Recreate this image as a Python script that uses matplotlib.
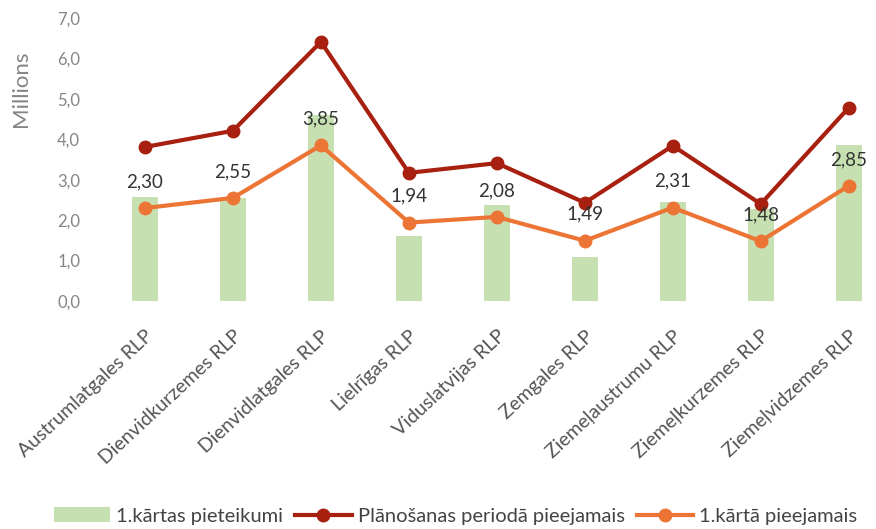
import matplotlib
matplotlib.use('Agg')
import matplotlib.pyplot as plt
import numpy as np

regions = ['Austrumlatgales RLP', 'Dienvidkurzemes RLP', 'Dienvidlatgales RLP',
           'Lielrīgas RLP', 'Viduslatvijas RLP', 'Zemgales RLP',
           'Ziemeļaustrumu RLP', 'Ziemeļkurzemes RLP', 'Ziemeļvidzemes RLP']
pieteikumi = [2.57, 2.55, 4.60, 1.61, 2.38, 1.09, 2.45, 2.28, 3.86]
planosanas = [3.81, 4.21, 6.41, 3.17, 3.41, 2.43, 3.84, 2.40, 4.78]
karta1 = [2.30, 2.55, 3.85, 1.94, 2.08, 1.49, 2.31, 1.48, 2.85]

plt.rcParams['font.family'] = ['Lato', 'DejaVu Sans']

fig = plt.figure(figsize=(8.76, 5.29), dpi=100)
ax = fig.add_axes([101 / 876, (529 - 301) / 529, 1 - 101 / 876, (301 - 18) / 529])

x = np.arange(len(regions))
bars = ax.bar(x, pieteikumi, width=0.3, color='#c6e0b2', label='1.kārtas pieteikumi', zorder=1)
l1, = ax.plot(x, planosanas, color='#a82010', lw=3, marker='o', ms=9,
              label='Plānošanas periodā pieejamais', zorder=3)
l2, = ax.plot(x, karta1, color='#ec7535', lw=3, marker='o', ms=9,
              label='1.kārtā pieejamais', zorder=3)

for xi, v in zip(x, karta1):
    ax.annotate(('%.2f' % v).replace('.', ','), (xi, v), xytext=(0, 19),
                textcoords='offset points', ha='center', va='center',
                fontsize=13.5, color='#333333', zorder=4)

ax.set_xlim(-0.5, 8.31)
ax.set_ylim(0, 7)
yt = np.arange(0, 7.1, 1.0)
ax.set_yticks(yt)
ax.set_yticklabels([('%.1f' % t).replace('.', ',') for t in yt], fontsize=12, color='#858585')
ax.set_xticks(x)
ax.set_xticklabels(regions, rotation=43, ha='right', rotation_mode='anchor',
                   fontsize=14, color='#555555')
ax.tick_params(axis='y', length=0, pad=15)
ax.tick_params(axis='x', length=0, pad=19)
ax.set_ylabel('Millions', fontsize=16, color='#858585')
ax.yaxis.set_label_coords(-0.09, 0.75)
for s in ax.spines.values():
    s.set_visible(False)

fig.legend([bars, l1, l2], [bars.get_label(), l1.get_label(), l2.get_label()],
           loc='center', bbox_to_anchor=(0.52, 1 - 516 / 529), ncol=3, frameon=False,
           fontsize=14.5, handlelength=2.8, columnspacing=0.6, handletextpad=0.3,
           labelcolor='#444444')

fig.savefig('out.png', dpi=100)
